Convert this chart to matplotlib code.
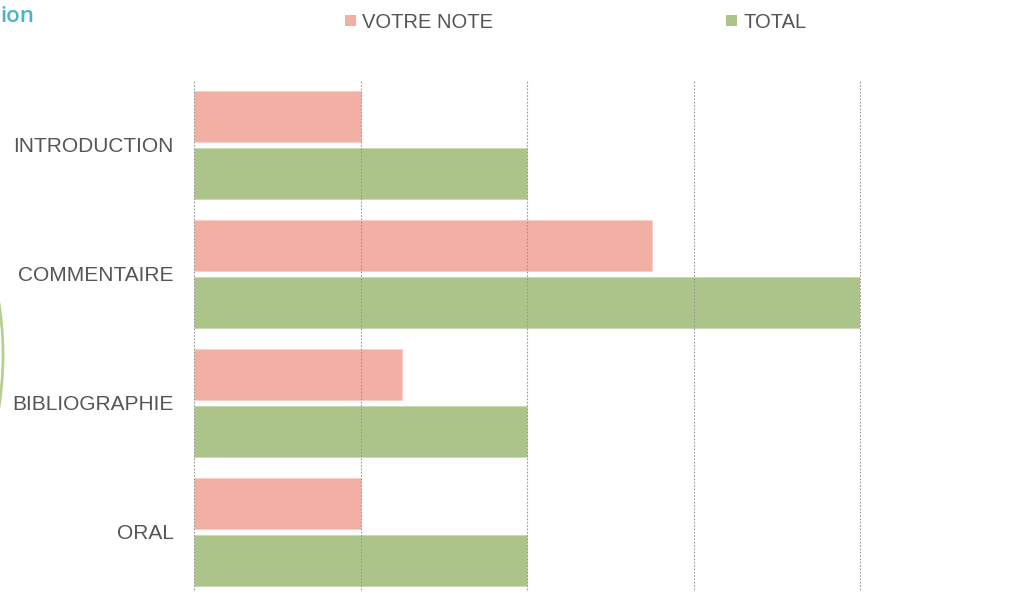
import matplotlib
matplotlib.use("Agg")
import matplotlib.pyplot as plt
from matplotlib.patches import Rectangle, Ellipse
import numpy as np

categories = ["INTRODUCTION", "COMMENTAIRE", "BIBLIOGRAPHIE", "ORAL"]
votre_note = [1, 2.75, 1.25, 1]
total = [2, 4, 2, 2]
series_names = ["VOTRE NOTE", "TOTAL"]
grid_ticks = [0, 1, 2, 3, 4]

pink = "#F2AFA3"
green = "#ACC48A"
text_col = "#555555"

plt.rcParams['font.family'] = ['Liberation Sans', 'DejaVu Sans']

W, H = 1018, 592
fig = plt.figure(figsize=(W / 100, H / 100), dpi=100)
fig.patch.set_facecolor("white")

left, right, top, bottom = 194, 860, 80, 596
ax = fig.add_axes([left / W, (H - bottom) / H, (right - left) / W, (bottom - top) / H])

y = np.arange(len(categories))
bh = 0.395
ax.barh(y - 0.217, votre_note, height=bh, color=pink, edgecolor="#F7CFC7", linewidth=0.6, zorder=2)
ax.barh(y + 0.225, total, height=bh, color=green, edgecolor="#C9D9B3", linewidth=0.6, zorder=2)

ax.set_xlim(0, 4)
ax.set_ylim(len(categories) - 0.5, -0.5)
ax.set_xticks([])
ax.set_yticks(y)
ax.set_yticklabels(categories, fontsize=15, color=text_col)
ax.tick_params(axis='y', length=0, pad=14.5)
for s in ax.spines.values():
    s.set_visible(False)
for g in grid_ticks:
    ax.axvline(g, linestyle=(0, (1.5, 1.5)), color="#999999", linewidth=0.8, zorder=3, clip_on=False)

def px(xp, yp):
    return xp / W, 1 - yp / H

sq = 11
for (xs, xt, col, name) in [(345, 362, pink, series_names[0]), (726, 744, green, series_names[1])]:
    x0, y0 = px(xs, 26)
    fig.add_artist(Rectangle((x0, y0), sq / W, sq / H, transform=fig.transFigure,
                             facecolor=col, edgecolor='none'))
    tx, ty = px(xt, 22)
    fig.text(tx, ty, name, fontsize=14.5, color=text_col, va='center', ha='left')

tx, ty = px(0, 16)
fig.text(tx, ty, "ion", fontsize=16, color="#4BB3C8", va='center', ha='left',
         family=['Open Sans', 'DejaVu Sans'], fontweight=600)

fig.add_artist(Ellipse((-336 / W, 1 - 355 / H), 2 * 339 / W, 2 * 339 / H,
                       transform=fig.transFigure, facecolor='none',
                       edgecolor="#B5D092", linewidth=2))

fig.savefig("out.png", dpi=100, facecolor="white")
